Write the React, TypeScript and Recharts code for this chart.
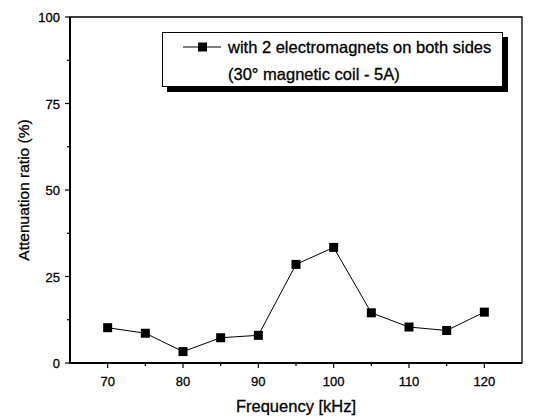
import React from 'react';
import { LineChart, Line, XAxis, YAxis, ReferenceArea } from 'recharts';

const frequencies = [70, 75, 80, 85, 90, 95, 100, 105, 110, 115, 120];
const attenuation = [10.2, 8.6, 3.3, 7.3, 8.0, 28.5, 33.4, 14.5, 10.4, 9.4, 14.7];
const xTicks = [70, 75, 80, 85, 90, 95, 100, 105, 110, 115, 120];
const yTicks = [0, 12.5, 25, 37.5, 50, 62.5, 75, 87.5, 100];
const legendLines = ['with 2 electromagnets on both sides', '(30° magnetic coil - 5A)'];

const data = frequencies.map((f, i) => ({ f, v: attenuation[i] }));

const FONT = '"Liberation Sans", Arial, sans-serif';

const XTick = (props: any) => {
  const { x, y, payload } = props;
  const major = payload.value % 10 === 0;
  return (
    <g>
      <line x1={x} x2={x} y1={y} y2={y + (major ? 5 : 3)} stroke="#000" strokeWidth={1.2} />
      {major && (
        <text x={x} y={y + 23} textAnchor="middle" fontSize={13} fontFamily={FONT} fill="#000" stroke="#000" strokeWidth={0.3}>
          {payload.value}
        </text>
      )}
    </g>
  );
};

const YTick = (props: any) => {
  const { x, y, payload } = props;
  const major = payload.value % 25 === 0;
  return (
    <g>
      <line x1={x - (major ? 5 : 3)} x2={x} y1={y} y2={y} stroke="#000" strokeWidth={1.2} />
      {major && (
        <text x={x - 10} y={y + 5} textAnchor="end" fontSize={13} fontFamily={FONT} fill="#000" stroke="#000" strokeWidth={0.3}>
          {payload.value}
        </text>
      )}
    </g>
  );
};

const Square = (props: any) => {
  const { cx, cy } = props;
  if (cx == null || cy == null) return null;
  return <rect x={cx - 4.5} y={cy - 4.5} width={9} height={9} fill="#000" />;
};

const LegendBox = () => (
  <div
    style={{
      position: 'absolute',
      left: 162,
      top: 32,
      width: 339,
      height: 53,
      border: '1px solid #000',
      boxShadow: '5px 5px 0 #000',
      background: '#fff',
      fontFamily: FONT,
      fontSize: 16.5,
      color: '#000',
      WebkitTextStroke: '0.3px #000',
    }}
  >
    <svg width={50} height={20} style={{ position: 'absolute', left: 18, top: 4 }}>
      <line x1={2} x2={40} y1={10} y2={10} stroke="#000" strokeWidth={1} />
      <rect x={17} y={5.5} width={9} height={9} fill="#000" />
    </svg>
    <div style={{ position: 'absolute', left: 65, top: 4, whiteSpace: 'nowrap', lineHeight: '20px' }}>{legendLines[0]}</div>
    <div style={{ position: 'absolute', left: 65, top: 31, whiteSpace: 'nowrap', lineHeight: '20px' }}>{legendLines[1]}</div>
  </div>
);

export default function App() {
  return (
    <div style={{ position: 'fixed', left: 0, top: 0, width: 547, height: 417, background: '#fff' }}>
      <LineChart
        width={547}
        height={417}
        data={data}
        margin={{ top: 17, right: 25, left: 0, bottom: 0 }}
      >
        <ReferenceArea x1={65} x2={125} y1={0} y2={100} fill="none" stroke="#000" strokeWidth={1.3} ifOverflow="visible" />
        <XAxis
          dataKey="f"
          type="number"
          domain={[65, 125]}
          ticks={xTicks}
          height={54}
          tickLine={false}
          tickSize={0}
          tickMargin={0}
          tick={<XTick />}
          axisLine={{ stroke: '#000', strokeWidth: 2 }}
          interval={0}
          label={{ value: 'Frequency [kHz]', position: 'insideBottom', offset: 5, fontSize: 16.5, fontFamily: FONT, fill: '#000', stroke: '#000', strokeWidth: 0.3 }}
        />
        <YAxis
          type="number"
          domain={[0, 100]}
          ticks={yTicks}
          width={70}
          tickLine={false}
          tickSize={0}
          tickMargin={0}
          tick={<YTick />}
          axisLine={{ stroke: '#000', strokeWidth: 2 }}
          interval={0}
          label={{ value: 'Attenuation ratio (%)', angle: -90, position: 'insideLeft', offset: 23, fontSize: 15.5, fontFamily: FONT, fill: '#000', stroke: '#000', strokeWidth: 0.3, style: { textAnchor: 'middle' } }}
        />
        <Line
          dataKey="v"
          stroke="#000"
          strokeWidth={1}
          dot={<Square />}
          activeDot={false}
          isAnimationActive={false}
        />
      </LineChart>
      <LegendBox />
    </div>
  );
}
